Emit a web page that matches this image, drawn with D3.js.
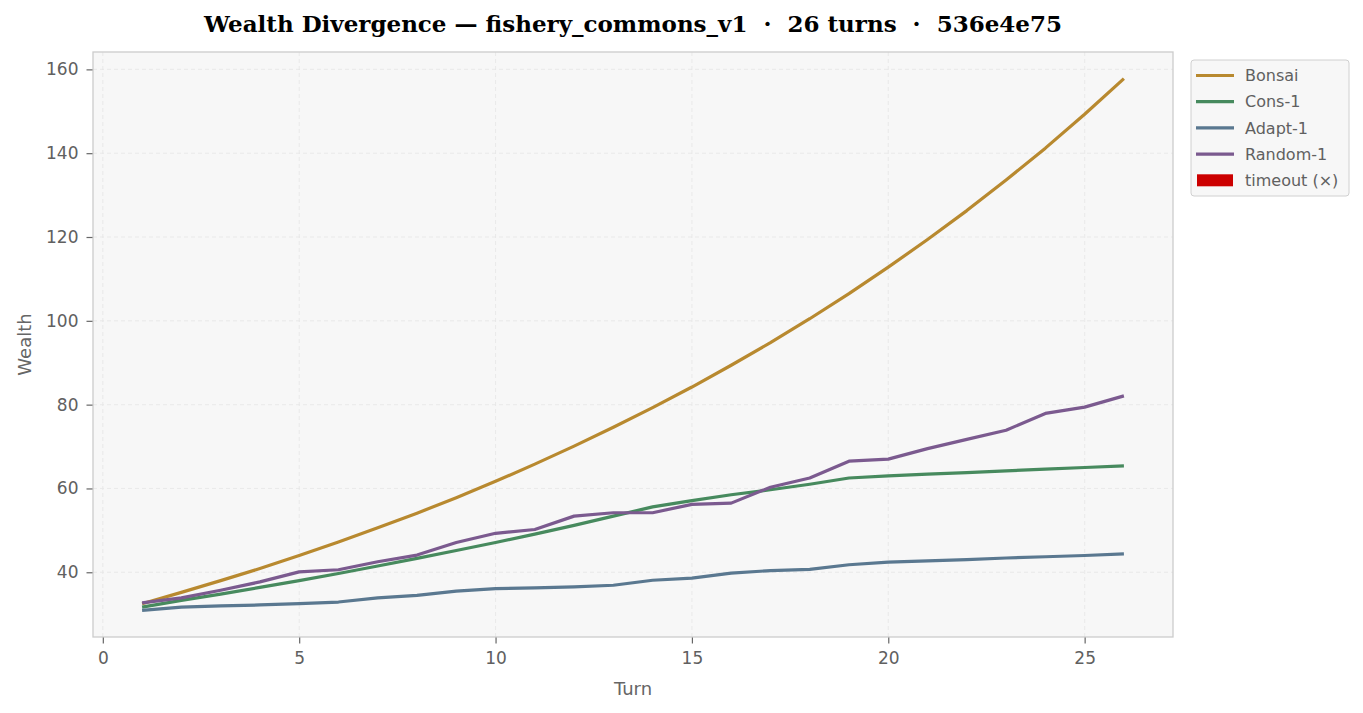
<!DOCTYPE html>
<html>
<head>
<meta charset="utf-8">
<script src="https://cdn.jsdelivr.net/npm/d3@7"></script>
<style>
  body { margin: 0; background: #ffffff; }
  svg { display: block; }
</style>
</head>
<body>
<div id="chart"></div>
<script>
// Wealth per turn, one array per agent
const turns = d3.range(1, 27);
const bonsai = [32.5, 35.2, 38.0, 40.9, 44.0, 47.2, 50.6, 54.1, 57.8, 61.7, 65.8, 70.1, 74.6,
  79.3, 84.2, 89.4, 94.8, 100.5, 106.5, 112.8, 119.4, 126.3, 133.6, 141.2, 149.3, 157.8];
const cons1 = [31.7, 33.3, 34.8, 36.4, 38.0, 39.7, 41.5, 43.3, 45.2, 47.1, 49.1, 51.2, 53.4,
  55.6, 57.1, 58.5, 59.7, 61.0, 62.5, 63.0, 63.4, 63.8, 64.2, 64.6, 65.0, 65.4];
const adapt1 = [30.9, 31.7, 32.0, 32.2, 32.5, 32.9, 33.9, 34.5, 35.5, 36.1, 36.3, 36.5, 36.9,
  38.1, 38.6, 39.8, 40.4, 40.7, 41.8, 42.4, 42.7, 43.0, 43.4, 43.7, 44.0, 44.4];
const random1 = [32.7, 33.9, 35.7, 37.7, 40.1, 40.6, 42.5, 44.1, 47.1, 49.3, 50.2, 53.4, 54.2,
  54.2, 56.2, 56.5, 60.3, 62.5, 66.5, 67.0, 69.5, 71.7, 73.9, 77.9, 79.4, 82.1];

const seriesNames = ["Bonsai", "Cons-1", "Adapt-1", "Random-1"];
const seriesColors = ["#b8892f", "#478a5e", "#5a7890", "#7b5a8f"];
const seriesValues = [bonsai, cons1, adapt1, random1];
const xTicks = [0, 5, 10, 15, 20, 25];
const yTicks = [40, 60, 80, 100, 120, 140, 160];

const W = 1363, H = 713;
const m = { left: 93, right: 190, top: 52, bottom: 76 };

const svg = d3.select("#chart").append("svg")
  .attr("width", W)
  .attr("height", H)
  .style("font-family", "'DejaVu Sans', sans-serif");

// matplotlib style 5% margins on both axes
const allY = seriesValues.flat();
const yMin = d3.min(allY), yMax = d3.max(allY);
const yPad = (yMax - yMin) * 0.05;
const xPad = (d3.max(turns) - d3.min(turns)) * 0.05;

const x = d3.scaleLinear()
  .domain([d3.min(turns) - xPad, d3.max(turns) + xPad])
  .range([m.left, W - m.right]);
const y = d3.scaleLinear()
  .domain([yMin - yPad, yMax + yPad])
  .range([H - m.bottom, m.top]);

// Plot background
svg.append("rect")
  .attr("x", m.left).attr("y", m.top)
  .attr("width", W - m.left - m.right)
  .attr("height", H - m.top - m.bottom)
  .attr("fill", "#f7f7f7");

// Dashed grid
svg.append("g").selectAll("line")
  .data(xTicks).enter().append("line")
  .attr("x1", d => x(d)).attr("x2", d => x(d))
  .attr("y1", m.top).attr("y2", H - m.bottom)
  .attr("stroke", "#e6e6e6").attr("stroke-width", 0.8)
  .attr("stroke-dasharray", "4,3");
svg.append("g").selectAll("line")
  .data(yTicks).enter().append("line")
  .attr("x1", m.left).attr("x2", W - m.right)
  .attr("y1", d => y(d)).attr("y2", d => y(d))
  .attr("stroke", "#e6e6e6").attr("stroke-width", 0.8)
  .attr("stroke-dasharray", "4,3");

// Lines
const line = d3.line()
  .x((d, i) => x(turns[i]))
  .y(d => y(d));

svg.append("g").selectAll("path")
  .data(seriesValues).enter().append("path")
  .attr("d", d => line(d))
  .attr("fill", "none")
  .attr("stroke", (d, i) => seriesColors[i])
  .attr("stroke-width", 3.2)
  .attr("stroke-linejoin", "round");

// Spines
svg.append("rect")
  .attr("x", m.left).attr("y", m.top)
  .attr("width", W - m.left - m.right)
  .attr("height", H - m.top - m.bottom)
  .attr("fill", "none")
  .attr("stroke", "#cccccc").attr("stroke-width", 1.3);

// Axes
const xAxis = svg.append("g")
  .attr("transform", `translate(0,${H - m.bottom + 0.5})`)
  .call(d3.axisBottom(x).tickValues(xTicks).tickSize(6).tickPadding(8));
const yAxis = svg.append("g")
  .attr("transform", `translate(${m.left - 0.5},0)`)
  .call(d3.axisLeft(y).tickValues(yTicks).tickSize(6).tickPadding(8));

[xAxis, yAxis].forEach(a => {
  a.select(".domain").remove();
  a.selectAll(".tick line").attr("stroke", "#666666").attr("stroke-width", 1.2);
  a.selectAll(".tick text")
    .attr("fill", "#606060")
    .style("font-size", "17px")
    .style("font-family", "'DejaVu Sans', sans-serif");
});

// Axis labels
svg.append("text")
  .attr("x", (m.left + W - m.right) / 2)
  .attr("y", 695)
  .attr("text-anchor", "middle")
  .attr("fill", "#666666")
  .style("font-size", "18px")
  .text("Turn");
svg.append("text")
  .attr("transform", `translate(30.5,${(m.top + H - m.bottom) / 2}) rotate(-90)`)
  .attr("text-anchor", "middle")
  .attr("fill", "#666666")
  .style("font-size", "18px")
  .text("Wealth");

// Title
svg.append("text")
  .attr("x", 633)
  .attr("y", 32)
  .attr("text-anchor", "middle")
  .attr("fill", "#000000")
  .attr("xml:space", "preserve")
  .style("white-space", "pre")
  .style("font-family", "'DejaVu Serif', serif")
  .style("font-weight", "bold")
  .style("font-size", "23px")
  .text("Wealth Divergence \u2014 fishery_commons_v1  \u00b7  26 turns  \u00b7  536e4e75");

// Legend
const legend = svg.append("g").attr("transform", "translate(1191,60)");
legend.append("rect")
  .attr("width", 158).attr("height", 136)
  .attr("rx", 3)
  .attr("fill", "#f7f7f7")
  .attr("stroke", "#d0d0d0").attr("stroke-width", 1);

const legendItems = seriesNames.map((n, i) => ({ name: n, color: seriesColors[i], kind: "line" }))
  .concat([{ name: "timeout (\u00d7)", color: "#cc0000", kind: "patch" }]);

const item = legend.selectAll(".item")
  .data(legendItems).enter().append("g")
  .attr("class", "item")
  .attr("transform", (d, i) => `translate(0,${15.5 + i * 26.2})`);

item.filter(d => d.kind === "line").append("line")
  .attr("x1", 5).attr("x2", 43)
  .attr("stroke", d => d.color).attr("stroke-width", 3.2);
item.filter(d => d.kind === "patch").append("rect")
  .attr("x", 6).attr("y", -6).attr("width", 36).attr("height", 12)
  .attr("fill", d => d.color);
item.append("text")
  .attr("x", 54).attr("dy", "0.35em")
  .attr("fill", "#606060")
  .style("font-size", "16px")
  .text(d => d.name);
</script>
</body>
</html>
